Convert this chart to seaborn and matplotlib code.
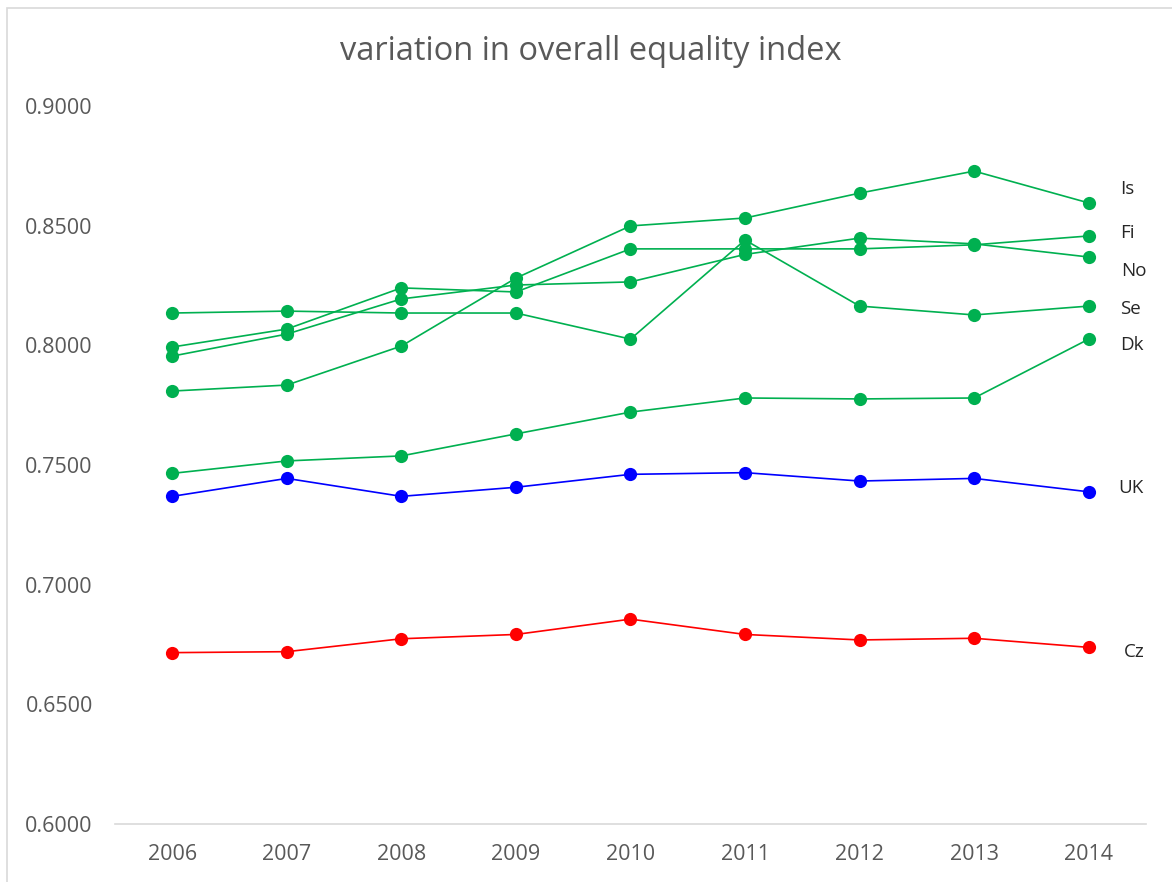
import matplotlib
matplotlib.use("Agg")
import matplotlib.pyplot as plt
import seaborn as sns
import pandas as pd
from matplotlib.patches import Rectangle
from matplotlib.ticker import FormatStrFormatter

years = [2006, 2007, 2008, 2009, 2010, 2011, 2012, 2013, 2014]
countries = ["Is", "Fi", "No", "Se", "Dk", "UK", "Cz"]

Is = [0.7809, 0.7834, 0.7997, 0.8281, 0.8499, 0.8532, 0.8636, 0.8728, 0.8595]
Fi = [0.7993, 0.8068, 0.8240, 0.8223, 0.8403, 0.8403, 0.8403, 0.8420, 0.8457]
No = [0.7955, 0.8047, 0.8194, 0.8252, 0.8265, 0.8380, 0.8448, 0.8424, 0.8369]
Se = [0.8135, 0.8143, 0.8135, 0.8135, 0.8026, 0.8440, 0.8164, 0.8127, 0.8164]
Dk = [0.7465, 0.7517, 0.7538, 0.7630, 0.7721, 0.7780, 0.7776, 0.7780, 0.8026]
UK = [0.7369, 0.7444, 0.7369, 0.7407, 0.7461, 0.7468, 0.7433, 0.7444, 0.7388]
Cz = [0.6716, 0.6720, 0.6774, 0.6792, 0.6856, 0.6792, 0.6769, 0.6776, 0.6738]

# end-label positions (layout only)
label_x = [2014.275, 2014.275, 2014.28, 2014.275, 2014.275, 2014.255, 2014.31]
label_y = [0.8652, 0.8470, 0.8312, 0.8150, 0.8000, 0.7404, 0.6719]

series = {"Is": Is, "Fi": Fi, "No": No, "Se": Se, "Dk": Dk, "UK": UK, "Cz": Cz}
rows = []
for c in countries:
    for y, v in zip(years, series[c]):
        rows.append({"year": y, "country": c, "value": v})
df = pd.DataFrame(rows)

GREEN = "#00B050"
palette = {"Is": GREEN, "Fi": GREEN, "No": GREEN, "Se": GREEN, "Dk": GREEN,
           "UK": "#0000FF", "Cz": "#FF0000"}

sns.set_theme(style="white")
plt.rcParams["font.family"] = ["Open Sans", "DejaVu Sans"]
TXT = "#595959"

fig = plt.figure(figsize=(11.72, 8.82), dpi=100)
ax = fig.add_axes([115/1172, 1 - 824/882, (1146 - 115)/1172, (824 - 106)/882])

sns.lineplot(data=df, x="year", y="value", hue="country", palette=palette,
             marker="o", markersize=9.5, markeredgewidth=0, linewidth=1.2,
             legend=False, ax=ax, sort=False, estimator=None)

ax.set_xlim(2005.5, 2014.5)
ax.set_ylim(0.6, 0.9)
ax.set_xticks(years)
ax.set_yticks([0.60, 0.65, 0.70, 0.75, 0.80, 0.85, 0.90])
ax.yaxis.set_major_formatter(FormatStrFormatter("%.4f"))
ax.set_xlabel("")
ax.set_ylabel("")
ax.tick_params(axis="both", length=0, labelsize=15.5, colors=TXT)
ax.tick_params(axis="x", pad=14.5)
ax.tick_params(axis="y", pad=16)
for s in ["top", "right", "left"]:
    ax.spines[s].set_visible(False)
ax.spines["bottom"].set_color("#D9D9D9")
ax.spines["bottom"].set_linewidth(1.2)
ax.grid(False)

for c, lx, ly in zip(countries, label_x, label_y):
    ax.text(lx, ly, c, fontsize=13.5, color="#262626", va="center", ha="left")

fig.text(0.504, 1 - 52/882, "variation in overall equality index",
         ha="center", va="center", fontsize=23.5, color=TXT)

fig.patches.append(Rectangle((7/1172, -0.05), 1.2, 1 - 8/882 + 0.05,
                             transform=fig.transFigure, fill=False,
                             edgecolor="#D9D9D9", linewidth=1.2))

fig.savefig("out.png", dpi=100, facecolor="white")
